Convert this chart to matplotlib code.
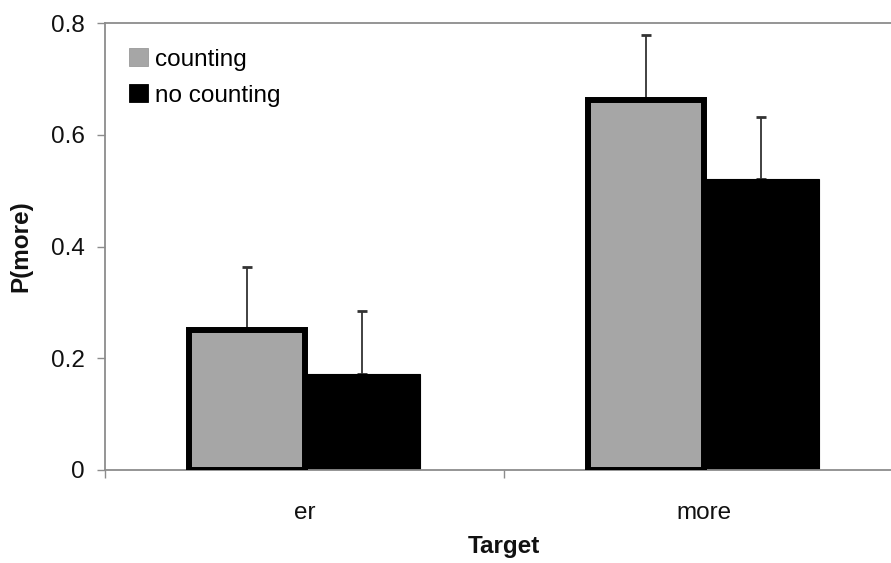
import matplotlib
matplotlib.use("Agg")
import matplotlib.pyplot as plt
from matplotlib.patches import Patch
import numpy as np

plt.rcParams['font.family'] = ['Liberation Sans', 'DejaVu Sans']

# Data
targets = ["er", "more"]
series = ["counting", "no counting"]
counting = [0.250, 0.663]
counting_err = [0.114, 0.116]
no_counting = [0.172, 0.521]
no_counting_err = [0.113, 0.111]
y_ticks = [0, 0.2, 0.4, 0.6, 0.8]
y_tick_labels = ["0", "0.2", "0.4", "0.6", "0.8"]

W, H = 891, 563
fig = plt.figure(figsize=(W / 100, H / 100), dpi=100)
# axes run past the right edge of the canvas
ax = fig.add_axes([105 / W, (H - 470) / H, 798 / W, 447 / H])

x = np.arange(len(targets))
bw = 0.29
grey_fill = "#a6a6a6"
spine_col = "#8c8c8c"
text_col = "#111111"
fs = 17.5

ax.bar(x + bw / 2, no_counting, bw, color="black", edgecolor="black",
       linewidth=0.8, zorder=2)
ax.bar(x - bw / 2, counting, bw, color=grey_fill, edgecolor="black",
       linewidth=4.3, zorder=3)

ax.errorbar(x - bw / 2, counting, yerr=[np.zeros(len(x)), counting_err],
            fmt="none", ecolor="#333333", elinewidth=1.3, capsize=3.8,
            capthick=2, zorder=1)
ax.errorbar(x + bw / 2, no_counting, yerr=[np.zeros(len(x)), no_counting_err],
            fmt="none", ecolor="#333333", elinewidth=1.3, capsize=3.8,
            capthick=2, zorder=1)

ax.set_xlim(-0.5, 1.5)
ax.set_ylim(0, 0.8)

for side in ["left", "bottom", "top", "right"]:
    ax.spines[side].set_color(spine_col)
    ax.spines[side].set_linewidth(1.3)

ax.set_yticks(y_ticks)
ax.set_yticklabels(y_tick_labels)
ax.tick_params(axis="y", direction="out", length=5.8, width=1,
               color=spine_col, pad=9, labelsize=fs, labelcolor=text_col)

ax.set_xticks(x)
ax.set_xticklabels(targets)
ax.set_xticks([-0.5, 0.5, 1.5], minor=True)
ax.tick_params(axis="x", which="major", length=0, pad=23, labelsize=fs,
               labelcolor=text_col)
ax.tick_params(axis="x", which="minor", direction="out", length=5.8,
               width=1, color=spine_col)

ax.set_xlabel("Target", fontsize=fs, fontweight="bold", labelpad=8,
              color=text_col)
ax.set_ylabel("P(more)", fontsize=fs, fontweight="bold", labelpad=13,
              color=text_col)

handles = [Patch(facecolor=grey_fill, edgecolor="#999999", linewidth=0.6),
           Patch(facecolor="black", edgecolor="black", linewidth=0.6)]
fig.legend(handles, series, loc="upper left",
           bbox_to_anchor=(129 / W, 1 - 48 / H), frameon=False,
           fontsize=fs, handlelength=0.78, handleheight=0.78,
           handletextpad=0.3, labelspacing=0.55, borderpad=0,
           borderaxespad=0)

fig.savefig("out.png", dpi=100)
